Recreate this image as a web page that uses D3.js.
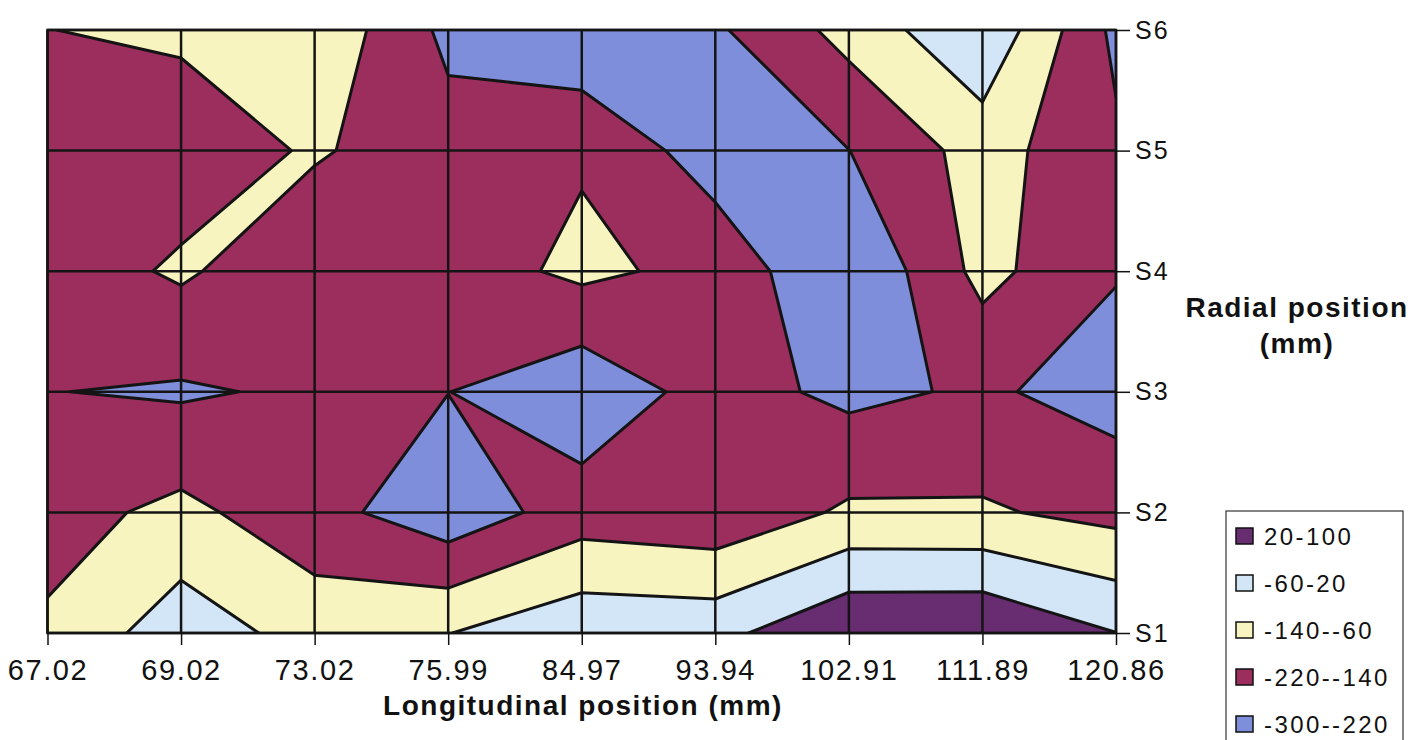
<!DOCTYPE html>
<html>
<head>
<meta charset="utf-8">
<script src="https://cdn.jsdelivr.net/npm/d3@7"></script>
<style>
  body { margin: 0; background: #fff; }
  text { font-family: "Liberation Sans", Arial, sans-serif; fill: #111; }
</style>
</head>
<body>
<div id="chart"></div>
<script>
// category labels
var xLabels = ["67.02", "69.02", "73.02", "75.99", "84.97", "93.94", "102.91", "111.89", "120.86"];
var yLabels = ["S1", "S2", "S3", "S4", "S5", "S6"];

// values, one array per radial position
var s6 = [-141, -127, -76, -240, -291, -232, -112, 10, -240];
var s5 = [-190, -183, -131, -187, -149, -262, -221, -107, -204];
var s4 = [-185, -128, -203, -180, -122, -164, -300, -115, -215];
var s3 = [-218, -230, -207, -219, -280, -185, -240, -208, -254];
var s2 = [-171, -119, -191, -272, -180, -200, -127, -130, -165];
var s1 = [-127, -14, -93, -62, 0, -5, 95, 98, 21];

// band edges and legend labels (highest first)
var bandLabels = ["20-100", "-60-20", "-140--60", "-220--140", "-300--220"];
var bandTops = [100, 20, -60, -140, -220];
var bandColors = ["#682c70", "#d2e6f7", "#f8f4bf", "#9c2e5e", "#7f8eda"];

var width = 1425,
    height = 740,
    plotLeft = 47.5,
    plotRight = 1116,
    plotTop = 30,
    plotBottom = 633;

var svg = d3.select("#chart")
    .append("svg")
    .attr("width", width)
    .attr("height", height);

svg.append("rect")
    .attr("width", width)
    .attr("height", height)
    .attr("fill", "#fff");

// rows top to bottom for the contour generator
var rows = [s6, s5, s4, s3, s2, s1];
var nx = xLabels.length,
    ny = rows.length;
// negate so saddles join the higher bands like the original
var grid = [].concat.apply([], rows).map(function(v){ return -v; });

var x = d3.scaleLinear().domain([0.5, nx - 0.5]).range([plotLeft, plotRight]);
var y = d3.scaleLinear().domain([0.5, ny - 0.5]).range([plotTop, plotBottom]);

var xPoint = d3.scalePoint().domain(xLabels).range([plotLeft, plotRight]);
var yPoint = d3.scalePoint().domain(yLabels).range([plotBottom, plotTop]);

var path = d3.geoPath(d3.geoTransform({
  point: function(px, py){ this.stream.point(x(px), y(py)); }
}));

svg.append("clipPath")
    .attr("id", "plot-clip")
  .append("rect")
    .attr("x", plotLeft)
    .attr("y", plotTop)
    .attr("width", plotRight - plotLeft)
    .attr("height", plotBottom - plotTop);

var plot = svg.append("g").attr("clip-path", "url(#plot-clip)");

// top band as background, then each lower band painted over it
plot.append("rect")
    .attr("x", plotLeft)
    .attr("y", plotTop)
    .attr("width", plotRight - plotLeft)
    .attr("height", plotBottom - plotTop)
    .attr("fill", bandColors[0]);

var levels = bandTops.slice(1).map(function(t){ return -t; });
var contours = d3.contours()
    .size([nx, ny])
    .thresholds(levels)(grid);

plot.selectAll("path.band")
    .data(contours)
    .enter().append("path")
    .attr("class", "band")
    .attr("d", path)
    .attr("fill", function(d, i){ return bandColors[i + 1]; });

plot.selectAll("path.line")
    .data(contours)
    .enter().append("path")
    .attr("class", "line")
    .attr("d", path)
    .attr("fill", "none")
    .attr("stroke", "#141414")
    .attr("stroke-width", 3)
    .attr("stroke-linejoin", "round");

// grid lines
svg.selectAll("line.vgrid")
    .data(xLabels)
    .enter().append("line")
    .attr("x1", function(d){ return xPoint(d); })
    .attr("x2", function(d){ return xPoint(d); })
    .attr("y1", plotTop)
    .attr("y2", plotBottom)
    .attr("stroke", "#141414")
    .attr("stroke-width", 2.5);

svg.selectAll("line.hgrid")
    .data(yLabels)
    .enter().append("line")
    .attr("x1", plotLeft)
    .attr("x2", plotRight)
    .attr("y1", function(d){ return yPoint(d); })
    .attr("y2", function(d){ return yPoint(d); })
    .attr("stroke", "#141414")
    .attr("stroke-width", 2.5);

svg.append("rect")
    .attr("x", plotLeft)
    .attr("y", plotTop)
    .attr("width", plotRight - plotLeft)
    .attr("height", plotBottom - plotTop)
    .attr("fill", "none")
    .attr("stroke", "#141414")
    .attr("stroke-width", 2.5);

// axes
var xAxis = svg.append("g")
    .attr("transform", "translate(0," + plotBottom + ")")
    .call(d3.axisBottom(xPoint).tickSize(12).tickPadding(14));

var yAxis = svg.append("g")
    .attr("transform", "translate(" + plotRight + ",0)")
    .call(d3.axisRight(yPoint).tickSize(14).tickPadding(5));

[xAxis, yAxis].forEach(function(a){
  a.select(".domain").remove();
  a.selectAll(".tick line").attr("stroke", "#111").attr("stroke-width", 1.5);
  a.selectAll(".tick text")
      .attr("fill", "#111")
      .style("font-family", "'Liberation Sans', Arial, sans-serif");
});

xAxis.selectAll(".tick text")
    .style("font-size", "29px")
    .style("letter-spacing", "1.6px");

yAxis.selectAll(".tick text")
    .style("font-size", "25px")
    .style("letter-spacing", "2px");

svg.append("text")
    .attr("x", 583)
    .attr("y", 715)
    .attr("text-anchor", "middle")
    .style("font-size", "28px")
    .style("font-weight", "bold")
    .style("letter-spacing", "1.5px")
    .text("Longitudinal position (mm)");

svg.append("text")
    .attr("x", 1297)
    .attr("y", 317)
    .attr("text-anchor", "middle")
    .style("font-size", "28px")
    .style("font-weight", "bold")
    .style("letter-spacing", "1.5px")
    .text("Radial position");

svg.append("text")
    .attr("x", 1297)
    .attr("y", 353)
    .attr("text-anchor", "middle")
    .style("font-size", "28px")
    .style("font-weight", "bold")
    .style("letter-spacing", "1.5px")
    .text("(mm)");

// legend
var legend = svg.append("g");

legend.append("rect")
    .attr("x", 1226)
    .attr("y", 511)
    .attr("width", 177)
    .attr("height", 240)
    .attr("fill", "#fff")
    .attr("stroke", "#333")
    .attr("stroke-width", 1.2);

var items = legend.selectAll("g.item")
    .data(bandLabels)
    .enter().append("g")
    .attr("class", "item")
    .attr("transform", function(d, i){ return "translate(1236," + (536 + i * 47) + ")"; });

items.append("rect")
    .attr("x", 0)
    .attr("y", -8)
    .attr("width", 17)
    .attr("height", 16)
    .attr("fill", function(d, i){ return bandColors[i]; })
    .attr("stroke", "#111")
    .attr("stroke-width", 1.5);

items.append("text")
    .attr("x", 28)
    .attr("y", 8.5)
    .style("font-size", "24px")
    .style("letter-spacing", "2.4px")
    .text(function(d){ return d; });
</script>
</body>
</html>
